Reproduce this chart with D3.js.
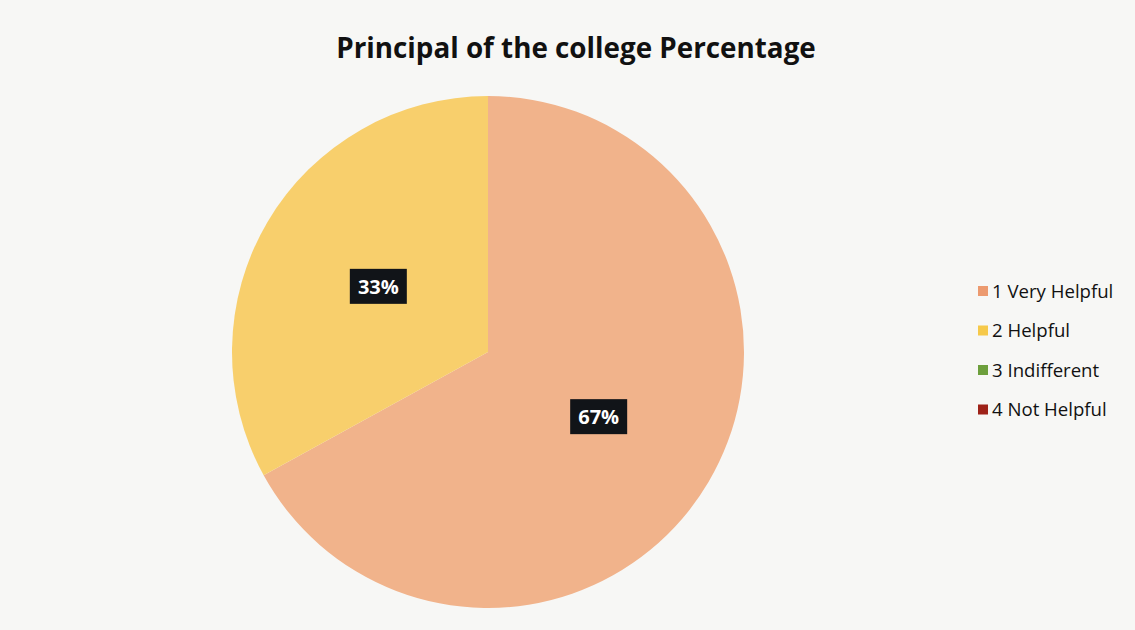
<!DOCTYPE html>
<html><head><meta charset="utf-8">
<script src="https://cdn.jsdelivr.net/npm/d3@7"></script>
<style>body{margin:0;background:#f7f7f5;}svg{display:block}</style>
</head><body>
<svg id="chart" width="1135" height="630"></svg>
<script>
const categories = ["1 Very Helpful", "2 Helpful", "3 Indifferent", "4 Not Helpful"];
const values = [67, 33, 0, 0];
const sliceColors = ["#f1b38b", "#f8cf6c", "#7aa94a", "#a3281f"];
const legendColors = ["#ec9a6f", "#f6c94a", "#6d9f3c", "#9e2218"];
const title = "Principal of the college Percentage";

const W = 1135, H = 630;
const svg = d3.select("#chart");
svg.append("rect").attr("width", W).attr("height", H).attr("fill", "#f7f7f5");

const cx = 488, cy = 352, r = 256;
const data = categories.map((c, i) => ({cat: c, value: values[i], color: sliceColors[i], lcolor: legendColors[i]}));
const pie = d3.pie().sort(null).value(d => d.value);
const arc = d3.arc().innerRadius(0).outerRadius(r);
const arcs = pie(data);

const g = svg.append("g").attr("transform", `translate(${cx},${cy})`);
g.selectAll("path").data(arcs.filter(a => a.data.value > 0)).join("path")
  .attr("d", arc).attr("fill", d => d.data.color);

const total = d3.sum(values);
const lbl = g.selectAll("g.lbl").data(arcs.filter(a => a.data.value > 0)).join("g")
  .attr("class", "lbl")
  .attr("transform", d => { const [x, y] = arc.centroid(d); return `translate(${x},${y})`; });
lbl.append("rect").attr("x", -28).attr("y", -18).attr("width", 57).attr("height", 35).attr("fill", "#111418");
lbl.append("text").attr("text-anchor", "middle").attr("dy", "0.36em").attr("x", 0.5)
  .attr("font-family", "'Open Sans', sans-serif").attr("font-weight", 700).attr("font-size", 20)
  .attr("fill", "#fff").text(d => Math.round(d.data.value / total * 100) + "%");

svg.append("text").attr("x", 576).attr("y", 58).attr("text-anchor", "middle")
  .attr("font-family", "'Open Sans', sans-serif").attr("font-weight", 700).attr("font-size", 27.8)
  .attr("fill", "#111").text(title);

const leg = svg.append("g").selectAll("g").data(data).join("g")
  .attr("transform", (d, i) => `translate(978,${291 + i * 39.5})`);
leg.append("rect").attr("x", 0).attr("y", -5).attr("width", 10).attr("height", 10).attr("fill", d => d.lcolor);
leg.append("text").attr("x", 14).attr("dy", "0.36em")
  .attr("font-family", "'Open Sans', sans-serif").attr("font-size", 18.6).attr("fill", "#111").text(d => d.cat);
</script>
</body></html>
